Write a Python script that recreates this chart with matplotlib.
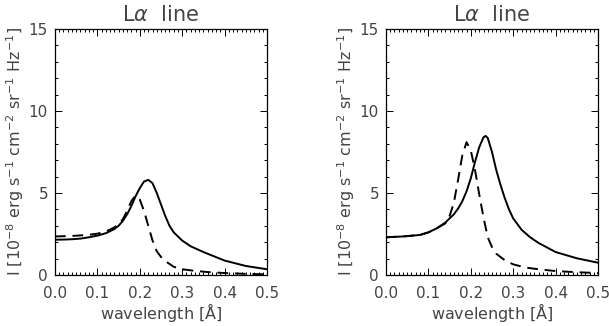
import matplotlib
matplotlib.use("Agg")
from matplotlib import pyplot as plt
from matplotlib.ticker import MultipleLocator

# 左图数据（实线 / 虚线）
x_solid_l = [0.00, 0.02, 0.04, 0.06, 0.08, 0.10, 0.12, 0.14, 0.15, 0.16, 0.17, 0.18, 0.19,
             0.20, 0.21, 0.22, 0.23, 0.24, 0.25, 0.26, 0.27, 0.28, 0.30, 0.32, 0.35, 0.40, 0.45, 0.50]
y_solid_l = [2.15, 2.16, 2.18, 2.22, 2.30, 2.40, 2.55, 2.80, 3.00, 3.30, 3.70, 4.20, 4.80,
             5.30, 5.70, 5.80, 5.60, 5.00, 4.30, 3.60, 3.00, 2.60, 2.10, 1.75, 1.40, 0.88, 0.55, 0.35]
x_dash_l = [0.00, 0.04, 0.08, 0.10, 0.12, 0.14, 0.15, 0.16, 0.17, 0.18, 0.19, 0.20, 0.21,
            0.22, 0.23, 0.24, 0.25, 0.26, 0.28, 0.30, 0.33, 0.36, 0.40, 0.45, 0.50]
y_dash_l = [2.35, 2.38, 2.45, 2.52, 2.65, 2.90, 3.10, 3.40, 3.90, 4.50, 4.85, 4.60, 3.90,
            3.00, 2.10, 1.45, 1.10, 0.85, 0.50, 0.35, 0.25, 0.18, 0.12, 0.07, 0.04]

# 右图数据
x_solid_r = [0.00, 0.04, 0.08, 0.10, 0.12, 0.14, 0.16, 0.17, 0.18, 0.19, 0.20, 0.21, 0.22,
             0.23, 0.235, 0.24, 0.25, 0.26, 0.27, 0.28, 0.29, 0.30, 0.32, 0.34, 0.36, 0.40, 0.45, 0.50]
y_solid_r = [2.30, 2.35, 2.44, 2.60, 2.85, 3.20, 3.70, 4.05, 4.50, 5.10, 5.90, 6.90, 7.80,
             8.40, 8.48, 8.35, 7.50, 6.40, 5.50, 4.70, 4.00, 3.45, 2.75, 2.30, 1.95, 1.40, 1.02, 0.75]
x_dash_r = [0.00, 0.04, 0.08, 0.10, 0.12, 0.14, 0.15, 0.16, 0.17, 0.18, 0.19, 0.20, 0.21,
            0.22, 0.23, 0.24, 0.25, 0.26, 0.28, 0.30, 0.33, 0.36, 0.40, 0.45, 0.50]
y_dash_r = [2.30, 2.35, 2.44, 2.60, 2.85, 3.15, 3.60, 4.40, 5.80, 7.30, 8.10, 7.60, 6.40,
            4.90, 3.50, 2.30, 1.70, 1.30, 0.90, 0.65, 0.45, 0.35, 0.24, 0.17, 0.12]

title = r"L$\alpha$  line"
xlabel = r"wavelength [$\mathrm{\AA}$]"
ylabel = r"I [10$^{-8}$ erg s$^{-1}$ cm$^{-2}$ sr$^{-1}$ Hz$^{-1}$]"
txt_color = "#444444"

fig = plt.figure(figsize=(6.09, 3.26), dpi=100)
ax1 = fig.add_axes([55/609, 1-275/326, 212/609, 246/326])
ax2 = fig.add_axes([386/609, 1-275/326, 212/609, 246/326])

panels = [(ax1, x_solid_l, y_solid_l, x_dash_l, y_dash_l),
          (ax2, x_solid_r, y_solid_r, x_dash_r, y_dash_r)]

for ax, xs, ys, xd, yd in panels:
    ax.plot(xs, ys, color="black", lw=1.4)
    ax.plot(xd, yd, color="black", lw=1.4, dashes=(5.5, 3.5))
    ax.set_xlim(0, 0.5)
    ax.set_ylim(0, 15)
    ax.set_xticks([0.0, 0.1, 0.2, 0.3, 0.4, 0.5])
    ax.set_xticklabels(["0.0", "0.1", "0.2", "0.3", "0.4", "0.5"])
    ax.set_yticks([0, 5, 10, 15])
    ax.xaxis.set_minor_locator(MultipleLocator(0.01))
    ax.yaxis.set_minor_locator(MultipleLocator(1))
    ax.tick_params(which="both", direction="in", top=True, right=True,
                   labelsize=11, labelcolor=txt_color, width=0.7)
    ax.tick_params(which="major", length=5, pad=8)
    ax.tick_params(axis="y", which="major", pad=5)
    ax.tick_params(which="minor", length=2.2)
    for sp in ax.spines.values():
        sp.set_linewidth(0.9)
    ax.set_title(title, fontsize=15, color=txt_color, pad=6)
    ax.set_xlabel(xlabel, fontsize=11.5, color=txt_color, labelpad=0)
    ax.set_ylabel(ylabel, fontsize=11.5, color=txt_color, labelpad=2)

fig.savefig("out.png", dpi=100)
